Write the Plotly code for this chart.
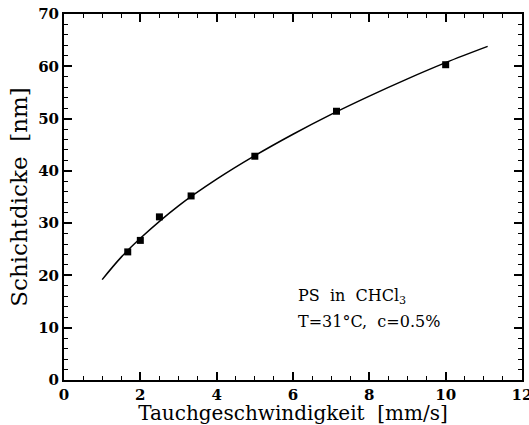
import plotly.graph_objects as go

# measured data points
speed = [1.67, 2.0, 2.5, 3.33, 5.0, 7.14, 10.0]
thickness = [24.5, 26.7, 31.2, 35.2, 42.8, 51.4, 60.3]

# fit curve
curve_x = [1.0, 1.5, 2.0, 3.0, 4.0, 5.0, 6.0, 7.0, 8.0, 9.0, 10.0, 11.1]
curve_y = [19.2, 23.5, 27.1, 33.3, 38.4, 42.9, 47.0, 50.8, 54.3, 57.6, 60.7, 63.8]

x_ticks = [0, 2, 4, 6, 8, 10, 12]
y_ticks = [0, 10, 20, 30, 40, 50, 60, 70]

fig = go.Figure()
fig.add_trace(go.Scatter(x=curve_x, y=curve_y, mode="lines",
                         line=dict(color="black", width=1.5, shape="spline"),
                         showlegend=False, hoverinfo="skip"))
fig.add_trace(go.Scatter(x=speed, y=thickness, mode="markers",
                         marker=dict(symbol="square", size=7, color="black"),
                         showlegend=False))

serif = "DejaVu Serif"
axis_common = dict(showgrid=False, zeroline=False, showline=True, linecolor="black",
                   linewidth=2, mirror="ticks", ticks="inside", ticklen=8, tickwidth=1.5,
                   tickcolor="black", ticklabeloverflow="allow", automargin=False,
                   tickfont=dict(family=serif, size=15, color="black", weight="bold"))

fig.update_xaxes(range=[0, 12], tickvals=x_ticks, ticktext=[str(v) for v in x_ticks],
                 minor=dict(dtick=0.5, ticks="inside", ticklen=4, tickwidth=1.2, tickcolor="black"),
                 title=dict(text="Tauchgeschwindigkeit  [mm/s]", standoff=3,
                            font=dict(family=serif, size=20, color="black")),
                 **axis_common)
fig.update_yaxes(range=[0, 70], tickvals=y_ticks, ticktext=[str(v) for v in y_ticks],
                 minor=dict(dtick=2, ticks="inside", ticklen=4, tickwidth=1.2, tickcolor="black"),
                 title=dict(text="Schichtdicke  [nm]", standoff=4,
                            font=dict(family=serif, size=23, color="black")),
                 **axis_common)

fig.add_annotation(x=6.08, y=15.9, xref="x", yref="y", xanchor="left", yanchor="middle",
                   text="PS  in  CHCl<sub>3</sub>", showarrow=False,
                   font=dict(family=serif, size=16, color="black"))
fig.add_annotation(x=6.08, y=11.1, xref="x", yref="y", xanchor="left", yanchor="middle",
                   text="T=31°C,  c=0.5%", showarrow=False,
                   font=dict(family=serif, size=16, color="black"))

fig.update_layout(width=529, height=425, margin=dict(l=64, r=7, t=14, b=45),
                  plot_bgcolor="white", paper_bgcolor="white")

fig.write_html("out.html")
